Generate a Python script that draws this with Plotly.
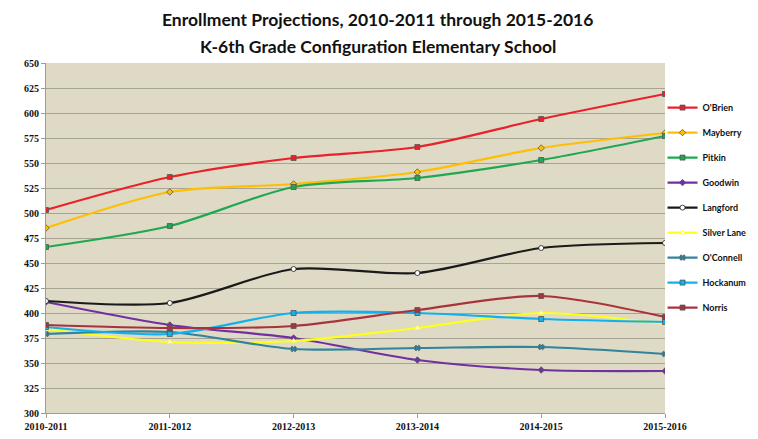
import plotly.graph_objects as go

years = ["2010-2011", "2011-2012", "2012-2013", "2013-2014", "2014-2015", "2015-2016"]

obrien = [503, 536, 555, 566, 594, 619]
mayberry = [485, 521, 529, 541, 565, 580]
pitkin = [466, 487, 526, 535, 553, 577]
goodwin = [411, 388, 375, 353, 343, 342]
langford = [412, 410, 444, 440, 465, 470]
silver_lane = [384, 371, 372, 385, 400, 389]
oconnell = [379, 381, 364, 365, 366, 359]
hockanum = [386, 379, 400, 400, 394, 391]
norris = [388, 385, 387, 403, 417, 396]

title_lines = ["Enrollment Projections, 2010-2011 through 2015-2016",
               "K-6th Grade Configuration Elementary School"]

series = [
    ("O'Brien", obrien, "#E8212B", "square", "#E8212B"),
    ("Mayberry", mayberry, "#FFBF00", "diamond", "#FFBF00"),
    ("Pitkin", pitkin, "#1FA84F", "square", "#1FA84F"),
    ("Goodwin", goodwin, "#7030A0", "diamond", "#7030A0"),
    ("Langford", langford, "#1A1A1A", "circle", "#FFFFFF"),
    ("Silver Lane", silver_lane, "#FFFF1A", "triangle-up", "#FFFFFF"),
    ("O'Connell", oconnell, "#31849B", "x", "#31849B"),
    ("Hockanum", hockanum, "#12B0EE", "square", "#12B0EE"),
    ("Norris", norris, "#A8333D", "square", "#A8333D"),
]

fig = go.Figure()
for i, (name, vals, color, sym, fill) in enumerate(series):
    fig.add_trace(go.Scatter(
        x=years, y=vals, name=name, mode="lines+markers",
        line=dict(color=color, width=2.2, shape="spline", smoothing=0.8),
        marker=dict(symbol=sym, size=5, color=fill,
                    line=dict(color="#555555" if fill != "#FFFFFF" else color, width=0.8)),
        legendgroup=f"g{i}",
    ))

for txt, ypos in zip(title_lines, [1.123, 1.046]):
    fig.add_annotation(
        text=txt, xref="paper", yref="paper", x=0.536, y=ypos,
        xanchor="center", yanchor="middle", showarrow=False,
        font=dict(family="Lato", size=17.5, color="#111111", weight="bold"),
    )

fig.update_layout(
    width=750, height=431,
    margin=dict(l=38, r=93, t=55, b=26, autoexpand=False),
    paper_bgcolor="white",
    plot_bgcolor="#DEDAC5",
    legend=dict(
        xref="paper", yref="paper", x=0.996, xanchor="left", y=0.914, yanchor="top",
        font=dict(family="Lato", size=9, color="#111111", weight="bold"),
        tracegroupgap=6, bgcolor="rgba(0,0,0,0)", itemwidth=30,
    ),
    showlegend=True,
)
fig.update_xaxes(
    type="category", range=[0, 5], showgrid=False,
    showline=True, linecolor="#A09C8C", ticks="outside", ticklen=4, tickcolor="#A09C8C",
    tickfont=dict(family="Liberation Serif", size=10, color="#111111", weight="bold"),
)
fig.update_yaxes(
    range=[300, 650], dtick=25, showgrid=True, gridcolor="#A8A493", gridwidth=1,
    showline=True, linecolor="#A09C8C", ticks="outside", ticklen=4, tickcolor="#A09C8C",
    tickfont=dict(family="Liberation Serif", size=10, color="#111111", weight="bold"),
    zeroline=False,
)
fig.write_html("out.html")
